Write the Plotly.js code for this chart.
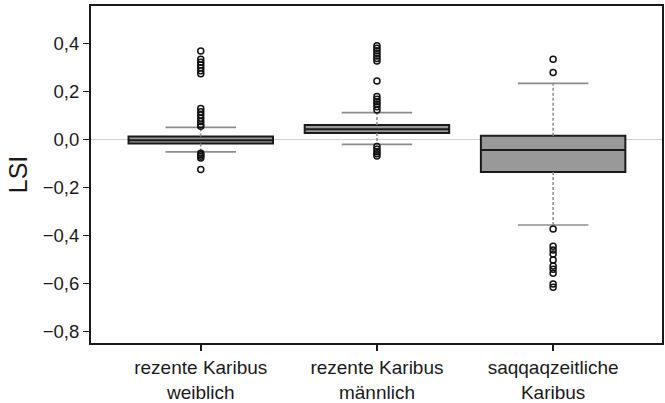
<!DOCTYPE html>
<html>
<head>
<meta charset="utf-8">
<script src="https://cdn.plot.ly/plotly-3.0.1.min.js"></script>
<style>html,body{margin:0;padding:0;background:#fff;}#chart{width:665px;height:403px;}</style>
</head>
<body>
<div id="chart"></div>
<script>
// ---- data ----
var categories = ["rezente Karibus<br>weiblich", "rezente Karibus<br>männlich", "saqqaqzeitliche<br>Karibus"];
var q1Vals     = [-0.017, 0.027, -0.136];
var medianVals = [-0.003, 0.042, -0.044];
var q3Vals     = [0.012, 0.060, 0.015];
var lowerWhisker = [-0.052, -0.021, -0.356];
var upperWhisker = [0.050, 0.111, 0.233];
var outliersW = [0.368, 0.333, 0.321, 0.310, 0.298, 0.286, 0.273,
                 0.129, 0.115, 0.102, 0.088, 0.074, 0.062, 0.055,
                 -0.058, -0.064, -0.070, -0.077, -0.125];
var outliersM = [0.390, 0.379, 0.369, 0.358, 0.347, 0.337, 0.326,
                 0.243,
                 0.178, 0.167, 0.157, 0.147, 0.136, 0.122,
                 -0.030, -0.041, -0.051, -0.060, -0.069];
var outliersS = [0.333, 0.278,
                 -0.373, -0.444, -0.460, -0.477, -0.502, -0.527, -0.540, -0.557, -0.602, -0.615];
var yTickVals = [0.4, 0.2, 0.0, -0.2, -0.4, -0.6, -0.8];
var yTickText = ["0,4", "0,2", "0,0", "\u22120,2", "\u22120,4", "\u22120,6", "\u22120,8"];

// ---- style ----
var boxWidth = 0.82;
var capHalf = 0.2;
var FONT = "Liberation Sans, Arial, sans-serif";
var outlierSets = [outliersW, outliersM, outliersS];

var traces = [];
categories.forEach(function (c, i) {
  traces.push({
    type: "scatter", mode: "lines",
    x: [i, i, null, i, i],
    y: [q3Vals[i], upperWhisker[i], null, q1Vals[i], lowerWhisker[i]],
    line: {color: "#8c8c8c", width: 1.5, dash: "3px,2px"},
    hoverinfo: "skip", showlegend: false
  });
  traces.push({
    type: "scatter", mode: "lines",
    x: [i - capHalf, i + capHalf, null, i - capHalf, i + capHalf],
    y: [upperWhisker[i], upperWhisker[i], null, lowerWhisker[i], lowerWhisker[i]],
    line: {color: "#8c8c8c", width: 1.7},
    hoverinfo: "skip", showlegend: false
  });
});
categories.forEach(function (c, i) {
  traces.push({
    type: "box",
    x: [i],
    q1: [q1Vals[i]], median: [medianVals[i]], q3: [q3Vals[i]],
    lowerfence: [q1Vals[i]], upperfence: [q3Vals[i]],
    width: boxWidth, boxpoints: false,
    fillcolor: "#999999",
    line: {color: "#1a1a1a", width: 2},
    whiskerwidth: 0,
    showlegend: false
  });
});
outlierSets.forEach(function (arr, i) {
  traces.push({
    type: "scatter", mode: "markers",
    x: arr.map(function () { return i; }),
    y: arr,
    marker: {symbol: "circle-open", size: 6, color: "#111", line: {width: 1.5, color: "#111"}},
    showlegend: false
  });
});

var layout = {
  width: 665, height: 403,
  margin: {l: 91, r: 3, t: 6, b: 60},
  paper_bgcolor: "#fff", plot_bgcolor: "#fff",
  showlegend: false,
  font: {family: FONT, color: "#1a1a1a"},
  xaxis: {
    range: [-0.623, 2.618],
    tickvals: categories.map(function (c, i) { return i; }),
    ticktext: categories,
    tickfont: {size: 19, family: FONT, color: "#1a1a1a"},
    showgrid: false, zeroline: false,
    showline: true, mirror: true, linecolor: "#1a1a1a", linewidth: 2,
    ticks: "outside", ticklen: 6, tickwidth: 1.5, tickcolor: "#1a1a1a"
  },
  yaxis: {
    range: [-0.847, 0.555],
    tickvals: yTickVals,
    ticktext: yTickText,
    tickfont: {size: 18.5, family: FONT, color: "#1a1a1a"},
    title: {text: "LSI", font: {size: 25, family: FONT, color: "#1a1a1a"}, standoff: 8},
    showgrid: false,
    zeroline: true, zerolinecolor: "#cfcfcf", zerolinewidth: 1,
    showline: true, mirror: true, linecolor: "#1a1a1a", linewidth: 2,
    ticks: "outside", ticklen: 6, tickwidth: 1.5, tickcolor: "#1a1a1a"
  }
};

Plotly.newPlot("chart", traces, layout, {staticPlot: true, displayModeBar: false});
</script>
</body>
</html>
